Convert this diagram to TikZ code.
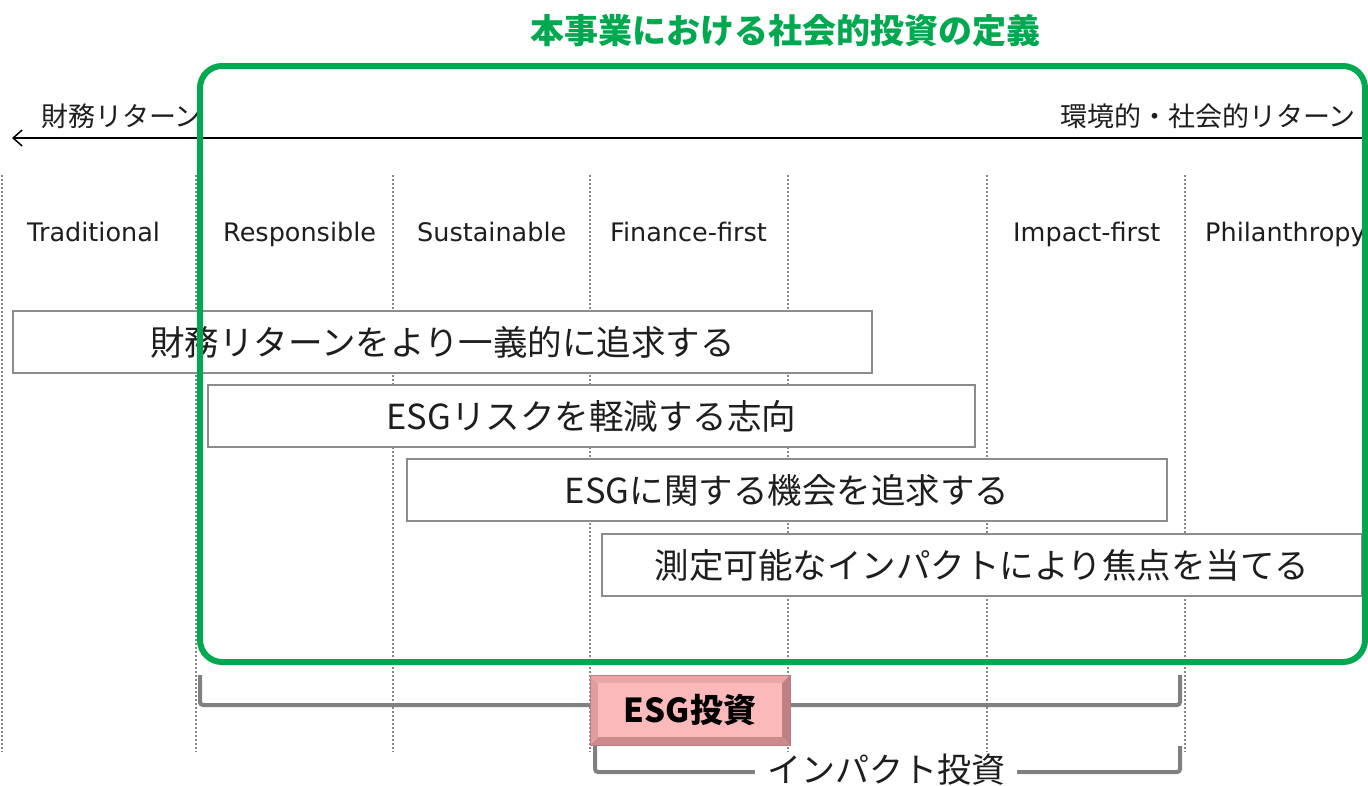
\documentclass[tikz,border=0pt]{standalone}
\usepackage{fontspec}
\setmainfont{DejaVu Sans}
\newfontfamily\jp{Noto Sans CJK JP}
\usetikzlibrary{arrows.meta}
\definecolor{grn}{RGB}{0,168,80}
\definecolor{boxgray}{RGB}{140,140,140}
\definecolor{dotgray}{RGB}{135,135,135}
\definecolor{brgray}{RGB}{128,128,128}
\definecolor{pinkin}{RGB}{251,185,185}
\definecolor{pinktop}{RGB}{232,166,166}
\definecolor{pinkleft}{RGB}{224,158,158}
\definecolor{pinkright}{RGB}{190,128,128}
\definecolor{pinkbot}{RGB}{204,138,138}
\definecolor{txt}{RGB}{30,30,30}
\tikzset{
  colline/.style={draw=dotgray, line width=1.2pt, dash pattern=on 2pt off 2pt},
  collabel/.style={anchor=base west, inner sep=0pt, text=txt, font=\fontsize{25.5}{30}\selectfont},
  defbox/.style={draw=boxgray, line width=2pt, fill=white, inner sep=0pt, minimum height=62pt, text=txt, font=\jp\fontsize{34.5}{40}\selectfont},
  axlabel/.style={inner sep=0pt, text=txt, font=\jp\fontsize{27}{32}\selectfont},
  bracket/.style={draw=brgray, line width=4pt, rounded corners=3pt},
}
\begin{document}
\begin{tikzpicture}[x=1pt,y=-1pt]
\useasboundingbox[fill=white] (0,0) rectangle (1368,785);

% dotted column lines
\foreach \x in {2,196,393,590,788,987,1185}{
  \draw[colline] (\x,175) -- (\x,752);
}

% title
\node[text=grn, font=\jp\bfseries\fontsize{34}{40}\selectfont, inner sep=0pt] (title) at (785,31) {本事業における社会的投資の定義};

% axis
\coordinate (axR) at (1368,138);
\coordinate (axL) at (12,138);
\draw[line width=1.5pt, -{Straight Barb[length=9pt,width=16pt,line width=1.5pt]}] (axR) -- (axL);
\node[axlabel, anchor=west] (fin) at (41,116) {財務リターン};
\node[axlabel, anchor=east] (soc) at (1356,116) {環境的・社会的リターン};

% column labels
\node[collabel] (c1) at (27,241) {Traditional};
\node[collabel] (c2) at (223,241) {Responsible};
\node[collabel] (c3) at (417,241) {Sustainable};
\node[collabel] (c4) at (610,241) {Finance-first};
\node[collabel] (c5) at (1013,241) {Impact-first};
\node[collabel] (c6) at (1205,241) {Philanthropy};

% definition boxes
\node[defbox, minimum width=859pt] (b1) at (442.5,342) {財務リターンをより一義的に追求する};
\node[defbox, minimum width=767pt] (b2) at (591.5,416) {ESGリスクを軽減する志向};
\node[defbox, minimum width=760pt] (b3) at (787,490) {ESGに関する機会を追求する};
\node[defbox, minimum width=760pt] (b4) at (982,565) {測定可能なインパクトにより焦点を当てる};

% green frame
\draw[grn, line width=6pt, rounded corners=22pt] (200,66) rectangle (1365,662);

% ESG bracket
\draw[bracket] (200,675) -- (200,705) -- (1180,705) -- (1180,675);

% impact bracket
\node[inner sep=0pt, text=txt, font=\jp\fontsize{34}{40}\selectfont] (imp) at (886,770) {インパクト投資};
\draw[bracket] (595,746) |- ([xshift=-12pt]imp.west |- 0,772);
\draw[bracket] ([xshift=12pt]imp.east |- 0,772) -| (1180,746);

% ESG investment bevel box
\fill[pinktop] (590,675) -- (790,675) -- (782,683) -- (598,683) -- cycle;
\fill[pinkleft] (590,675) -- (598,683) -- (598,737) -- (590,745) -- cycle;
\fill[pinkright] (790,675) -- (790,745) -- (782,737) -- (782,683) -- cycle;
\fill[pinkbot] (590,745) -- (790,745) -- (782,737) -- (598,737) -- cycle;
\node[fill=pinkin, minimum width=184pt, minimum height=54pt, inner sep=0pt,
      font=\jp\bfseries\fontsize{33}{38}\selectfont, text=black] (esg) at (690,710) {ESG投資};
\draw[draw=pinkbot!90!black, line width=0.8pt] (590,675) rectangle (790,745);
\end{tikzpicture}
\end{document}
